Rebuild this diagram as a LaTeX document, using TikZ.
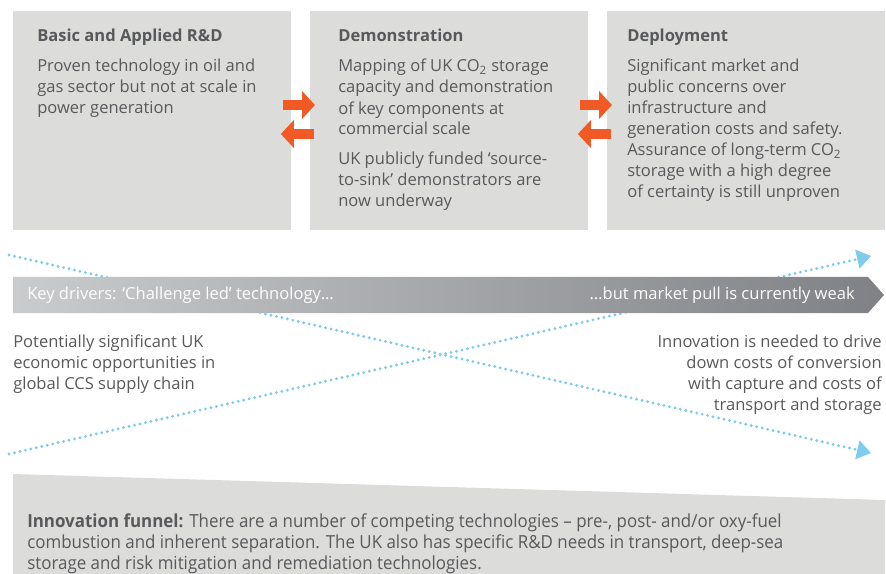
\documentclass[tikz,border=0pt]{standalone}
\usepackage{fontspec}
\setmainfont{Open Sans}
\newfontfamily\narrowfont[FakeStretch=0.94]{Open Sans}
\usepackage{tikz}
\usetikzlibrary{arrows.meta,calc,positioning}
\definecolor{panelgray}{RGB}{220,220,219}
\definecolor{inkgray}{RGB}{88,89,91}
\definecolor{ccsorange}{RGB}{241,90,36}
\definecolor{dotblue}{RGB}{126,203,236}
\definecolor{barlight}{RGB}{202,203,205}
\definecolor{bardark}{RGB}{128,129,132}
\tikzset{%
	panel/.style    = {fill=panelgray, anchor=north west, inner sep=0, minimum width=208pt, minimum height=164.25pt},
	head/.style     = {anchor=base west, inner sep=0, text=inkgray, font=\fontsize{12.4}{15.75}\selectfont\bfseries},
	body/.style     = {anchor=base west, inner sep=0, align=left, text=inkgray, font=\fontsize{12.4}{15.75}\selectfont}, % anchored on last line
	note/.style     = {inner sep=0, text=inkgray, font=\fontsize{12.4}{15.75}\selectfont},
	bartext/.style  = {inner sep=0, text=white, font=\fontsize{12.4}{15.75}\selectfont},
	push/.style     = {ccsorange, line width=7.5pt, -{Triangle[length=9.75pt,width=20.5pt]}}, % orange block arrow
	dotline/.style  = {dotblue, line width=2.4pt, line cap=round, dash pattern=on 0pt off 4.2pt, -{Triangle[length=10.5pt,width=14pt]}},
}

\begin{document}
\begin{tikzpicture}[x=0.75pt,y=-0.75pt]
	\useasboundingbox (0,0) rectangle (886,574);
	
	% crossing trends
	\coordinate (lowstart) at (9,454);
	\coordinate (highend) at (871,256);
	\coordinate (highstart) at (9,255);
	\coordinate (lowend) at (871,453);
	\draw[dotline] (highstart) -- (lowend);
	\draw[dotline] (lowstart) -- (highend);
	
	% the three stages
	\node [panel] (rd) at (13,11) {};
	\node [panel] (demo) at (310,11) {};
	\node [panel] (deploy) at (607,11) {};
	
	\node [head] (rdhead) at (37,42) {Basic and Applied R\&D};
	\node [body] (rdbody) at (37,114) {Proven technology in oil and\\gas sector but not at scale in\\power generation};
	
	\node [head] (demohead) at (338,42) {Demonstration};
	\node [body] (demobody) at (338,207) {Mapping of UK CO\textsubscript{2} storage\\capacity and demonstration\\of key components at\\commercial scale\\[6.75pt]UK publicly funded ‘source-\\to-sink’ demonstrators are\\now underway};
	
	\node [head] (deployhead) at (627,42) {Deployment};
	\node [body] (deploybody) at (627,198) {Significant market and\\public concerns over\\infrastructure and\\generation costs and safety.\\Assurance of long-term CO\textsubscript{2}\\storage with a high degree\\of certainty is still unproven};
	
	\draw[push] ([shift={(-8,94)}]rd.north east) -- ([shift={(5,94)}]demo.north west);
	\draw[push] ([shift={(4,123)}]demo.north west) -- ([shift={(-10,123)}]rd.north east);
	\draw[push] ([shift={(-8,94)}]demo.north east) -- ([shift={(5,94)}]deploy.north west);
	\draw[push] ([shift={(4,123)}]deploy.north west) -- ([shift={(-10,123)}]demo.north east);
	
	% key drivers band
	\shade[left color=barlight, right color=bardark] (13,277) -- (868,277) -- (884,295) -- (868,313) -- (13,313) -- cycle;
	\node [bartext, anchor=base west] (drivers) at (27,300) {Key drivers: ‘Challenge led’ technology…};
	\node [bartext, anchor=base east] (pull) at (855,300) {…but market pull is currently weak};
	
	\node [note, anchor=base west, align=left] (supply) at (13,389) {Potentially significant UK\\economic opportunities in\\global CCS supply chain};
	\node [note, anchor=base east, align=right] (costs) at (882,410) {Innovation is needed to drive\\down costs of conversion\\with capture and costs of\\transport and storage};
	
	% innovation funnel
	\fill[panelgray] (13,474) -- (885,500) -- (885,574) -- (13,574) -- cycle;
	\node [note, anchor=base west, align=left, font=\fontsize{13.5}{15.75}\narrowfont] (funnel) at (27,569) {\textbf{Innovation funnel:} There are a number of competing technologies – pre-, post- and/or oxy-fuel\\combustion and inherent separation. The UK also has specific R\&D needs in transport, deep-sea\\storage and risk mitigation and remediation technologies.};
\end{tikzpicture}
\end{document}
